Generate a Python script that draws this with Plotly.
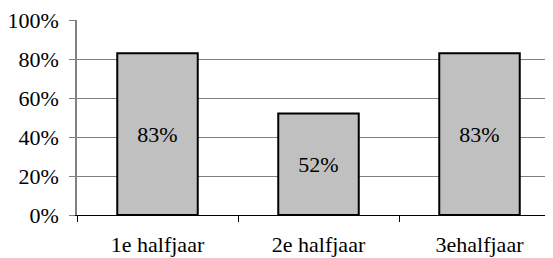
import plotly.graph_objects as go

categories = ["1e halfjaar", "2e halfjaar", "3ehalfjaar"]
values = [0.83, 0.52, 0.83]
labels = ["83%", "52%", "83%"]
y_ticks = [0, 0.2, 0.4, 0.6, 0.8, 1.0]
y_ticklabels = ["0%", "20%", "40%", "60%", "80%", "100%"]

FAMILY = "Liberation Serif"
SIZE = 22

fig = go.Figure(go.Bar(
    x=categories, y=values, text=labels, textposition="inside",
    insidetextanchor="middle", textangle=0,
    textfont_family=FAMILY, textfont_size=SIZE, textfont_color="black",
    marker=dict(color="#c0c0c0", line=dict(color="black", width=2)),
    width=0.5,
))

# page body has an 8px default margin, so the figure is shrunk to fit
fig.update_layout(
    width=545, height=250, margin=dict(l=69, r=0, t=12, b=43, autoexpand=False),
    paper_bgcolor="white", plot_bgcolor="white", showlegend=False,
    font_family=FAMILY, font_size=SIZE, font_color="black",
)
fig.update_xaxes(
    range=[-0.5, 2.5 - 7 / 161], showline=True, linecolor="black", linewidth=1,
    ticks="outside", tickson="boundaries", ticklen=6, tickcolor="black",
    showgrid=False, ticklabelstandoff=10, ticklabeloverflow="allow",
    tickfont_family=FAMILY, tickfont_size=SIZE, tickfont_color="black",
)
fig.update_yaxes(
    range=[0, 1.0], tickvals=y_ticks, ticktext=y_ticklabels,
    showline=True, linecolor="#808080", linewidth=1.5,
    ticks="outside", ticklen=6, tickcolor="#808080",
    showgrid=True, gridcolor="#808080", gridwidth=1, zeroline=False,
    ticklabelstandoff=6, ticklabeloverflow="allow",
    tickfont_family=FAMILY, tickfont_size=SIZE, tickfont_color="black",
)

fig.write_html("out.html")
